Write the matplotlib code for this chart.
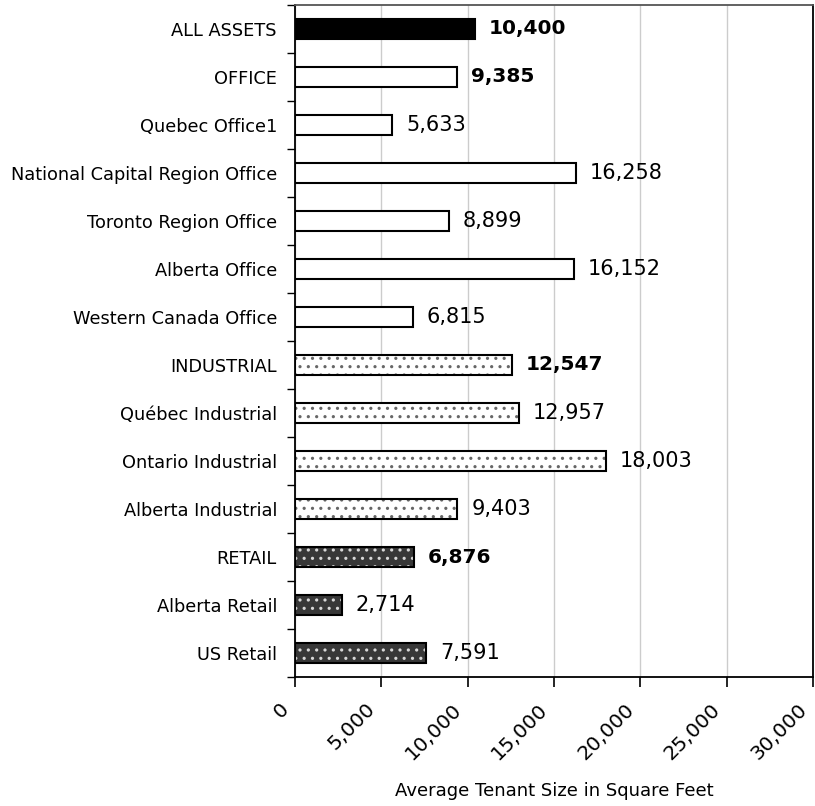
import matplotlib.pyplot as plt
import matplotlib.transforms as mtransforms
import numpy as np

categories = ["ALL ASSETS", "OFFICE", "Quebec Office1", "National Capital Region Office",
              "Toronto Region Office", "Alberta Office", "Western Canada Office",
              "INDUSTRIAL", "Québec Industrial", "Ontario Industrial", "Alberta Industrial",
              "RETAIL", "Alberta Retail", "US Retail"]
values = [10400, 9385, 5633, 16258, 8899, 16152, 6815,
          12547, 12957, 18003, 9403, 6876, 2714, 7591]
groups = ["all", "office", "office", "office", "office", "office", "office",
          "ind", "ind", "ind", "ind", "ret", "ret", "ret"]
bold_rows = ["ALL ASSETS", "OFFICE", "INDUSTRIAL", "RETAIL"]
xticks = [0, 5000, 10000, 15000, 20000, 25000, 30000]

fig = plt.figure(figsize=(8.15, 8.06), dpi=100)
ax = fig.add_axes([0.362, 0.16, 0.6355, 0.834])

y = np.arange(len(categories))
h = 0.42
plt.rcParams['hatch.linewidth'] = 1.1
for yi, v, g in zip(y, values, groups):
    if g == "all":
        ax.barh(yi, v, height=h, color="black", edgecolor="black", lw=1.5, zorder=3)
    elif g == "office":
        ax.barh(yi, v, height=h, color="white", edgecolor="black", lw=1.5, zorder=3)
    elif g == "ind":
        ax.barh(yi, v, height=h, color="white", edgecolor="#666666", hatch="..", lw=0, zorder=3)
        ax.barh(yi, v, height=h, color="none", edgecolor="black", lw=1.5, zorder=4)
    else:
        ax.barh(yi, v, height=h, color="#383838", edgecolor="#d8d8d8", hatch="..", lw=0, zorder=3)
        ax.barh(yi, v, height=h, color="none", edgecolor="black", lw=1.5, zorder=4)

for yi, v, c in zip(y, values, categories):
    bold = c in bold_rows
    ax.text(v + 800, yi, f"{v:,}", va="center", ha="left", fontsize=14.5 if bold else 15,
            fontweight="bold" if bold else "normal")

ax.set_ylim(len(categories) - 0.5, -0.5)
ax.set_yticks(y)
ax.set_yticklabels(categories, fontsize=12.8)
ax.set_yticks(np.arange(len(categories) + 1) - 0.5, minor=True)
ax.tick_params(axis="y", which="major", length=0, pad=13)
ax.tick_params(axis="y", which="minor", length=6, width=1)

ax.set_xlim(0, 30000)
ax.set_xticks(xticks)
ax.set_xticklabels([f"{t:,}" for t in xticks], rotation=45, ha="right", va="center",
                   rotation_mode="anchor", fontsize=14.5)
ax.tick_params(axis="x", length=7, width=1.2, pad=14)
shift = mtransforms.ScaledTranslation(-9 / 100, 0, fig.dpi_scale_trans)
for lab in ax.get_xticklabels():
    lab.set_transform(lab.get_transform() + shift)
ax.xaxis.grid(True, color="#cccccc", lw=1, zorder=0)
ax.set_axisbelow(True)
ax.set_xlabel("Average Tenant Size in Square Feet", fontsize=13, labelpad=14)

for s in ["left", "bottom", "right"]:
    ax.spines[s].set_linewidth(1.3)
    ax.spines[s].set_color("black")
ax.spines["top"].set_color("#555555")
ax.spines["top"].set_linewidth(1.3)

fig.savefig("out.png", dpi=100)
